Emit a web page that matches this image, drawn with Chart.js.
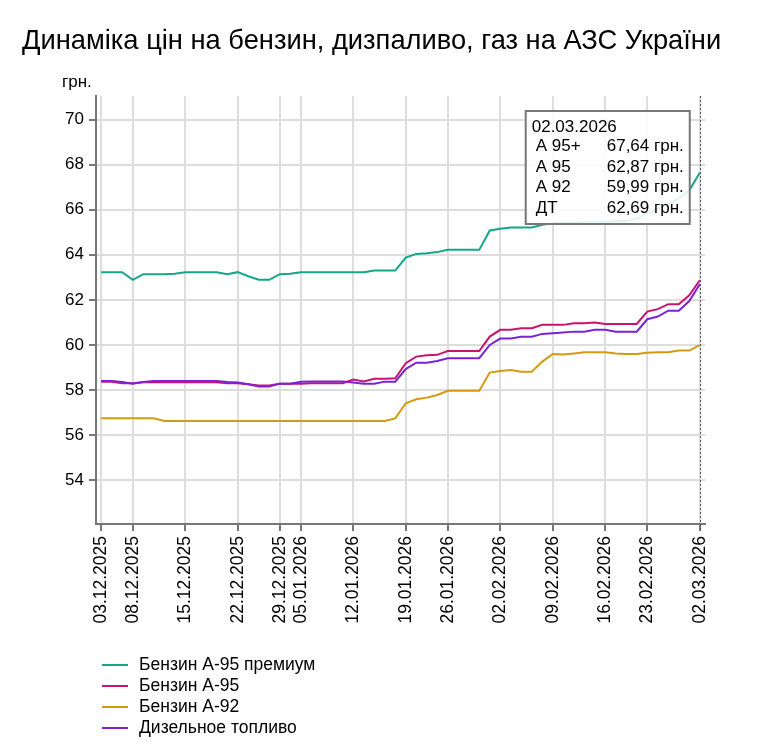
<!DOCTYPE html>
<html lang="uk">
<head>
<meta charset="utf-8">
<title>Динаміка цін на бензин, дизпаливо, газ на АЗС України</title>
<script src="https://cdn.jsdelivr.net/npm/chart.js@4.4.1/dist/chart.umd.min.js"></script>
<style>
  body { margin: 0; background: #fff; font-family: "Liberation Sans", Arial, sans-serif; }
  #wrap { position: relative; width: 761px; height: 749px; }
  #title { position: absolute; left: 22px; top: 24px; font-size: 27.3px; line-height: 32px; color: #000; white-space: nowrap; }
  #legend { position: absolute; left: 102px; top: 654px; font-size: 17.5px; color: #000; }
  .legend-item { position: relative; height: 21px; line-height: 21px; padding-left: 37px; white-space: nowrap; }
  .legend-item .swatch { position: absolute; left: 0; top: 10px; width: 26px; height: 2px; }
</style>
</head>
<body>
<div id="wrap">
  <canvas id="chart" width="761" height="749"></canvas>
  <div id="title">Динаміка цін на бензин, дизпаливо, газ на АЗС України</div>
  <div id="legend"></div>
</div>
<script>
// trading days shown on the chart
const dates = [
  "03.12.2025", "04.12.2025", "05.12.2025",
  "08.12.2025", "09.12.2025", "10.12.2025", "11.12.2025", "12.12.2025",
  "15.12.2025", "16.12.2025", "17.12.2025", "18.12.2025", "19.12.2025",
  "22.12.2025", "23.12.2025", "24.12.2025", "26.12.2025",
  "29.12.2025", "30.12.2025",
  "05.01.2026", "06.01.2026", "07.01.2026", "08.01.2026", "09.01.2026",
  "12.01.2026", "13.01.2026", "14.01.2026", "15.01.2026", "16.01.2026",
  "19.01.2026", "20.01.2026", "21.01.2026", "23.01.2026",
  "26.01.2026", "27.01.2026", "28.01.2026", "29.01.2026", "30.01.2026",
  "02.02.2026", "03.02.2026", "04.02.2026", "05.02.2026", "06.02.2026",
  "09.02.2026", "10.02.2026", "11.02.2026", "12.02.2026", "13.02.2026",
  "16.02.2026", "17.02.2026", "18.02.2026", "20.02.2026",
  "23.02.2026", "24.02.2026", "25.02.2026", "26.02.2026", "27.02.2026",
  "02.03.2026"
];
const tickDates = [
  "03.12.2025", "08.12.2025", "15.12.2025", "22.12.2025", "29.12.2025",
  "05.01.2026", "12.01.2026", "19.01.2026", "26.01.2026", "02.02.2026",
  "09.02.2026", "16.02.2026", "23.02.2026", "02.03.2026"
];
const yTicks = [54, 56, 58, 60, 62, 64, 66, 68, 70];

const a95plus = [
  63.23, 63.23, 63.23, 62.89, 63.14, 63.14, 63.14, 63.16, 63.23, 63.23,
  63.23, 63.23, 63.14, 63.23, 63.05, 62.89, 62.89, 63.14, 63.16, 63.23,
  63.23, 63.23, 63.23, 63.23, 63.23, 63.23, 63.30, 63.30, 63.30, 63.88,
  64.04, 64.07, 64.12, 64.22, 64.22, 64.22, 64.22, 65.08, 65.16, 65.21,
  65.21, 65.21, 65.33, 65.40, 65.42, 65.42, 65.45, 65.45, 65.45, 65.50,
  65.50, 65.60, 65.85, 66.05, 66.25, 66.50, 66.85, 67.64
];
const a95 = [
  58.36, 58.36, 58.30, 58.30, 58.34, 58.34, 58.34, 58.34, 58.34, 58.34,
  58.34, 58.34, 58.30, 58.30, 58.25, 58.20, 58.20, 58.28, 58.28, 58.28,
  58.30, 58.30, 58.30, 58.30, 58.46, 58.38, 58.50, 58.50, 58.52, 59.19,
  59.48, 59.54, 59.56, 59.73, 59.73, 59.73, 59.73, 60.37, 60.67, 60.67,
  60.74, 60.74, 60.89, 60.89, 60.89, 60.96, 60.96, 61.00, 60.93, 60.93,
  60.93, 60.93, 61.48, 61.59, 61.81, 61.81, 62.20, 62.87
];
const a92 = [
  56.74, 56.74, 56.74, 56.74, 56.74, 56.74, 56.62, 56.62, 56.62, 56.62,
  56.62, 56.62, 56.62, 56.62, 56.62, 56.62, 56.62, 56.62, 56.62, 56.62,
  56.62, 56.62, 56.62, 56.62, 56.62, 56.62, 56.62, 56.62, 56.74, 57.41,
  57.59, 57.66, 57.78, 57.96, 57.96, 57.96, 57.96, 58.77, 58.84, 58.89,
  58.81, 58.81, 59.26, 59.60, 59.58, 59.62, 59.67, 59.67, 59.67, 59.62,
  59.60, 59.60, 59.65, 59.67, 59.67, 59.75, 59.75, 59.99
];
const diesel = [
  58.40, 58.40, 58.35, 58.28, 58.35, 58.40, 58.40, 58.40, 58.40, 58.40,
  58.40, 58.40, 58.35, 58.33, 58.25, 58.15, 58.15, 58.28, 58.28, 58.36,
  58.38, 58.38, 58.38, 58.38, 58.33, 58.28, 58.28, 58.37, 58.37, 58.93,
  59.21, 59.21, 59.29, 59.41, 59.41, 59.41, 59.41, 60.00, 60.28, 60.28,
  60.36, 60.36, 60.49, 60.52, 60.55, 60.59, 60.59, 60.67, 60.67, 60.59,
  60.59, 60.59, 61.14, 61.26, 61.52, 61.52, 61.95, 62.69
];

const seriesNames = ["Бензин А-95 премиум", "Бензин А-95", "Бензин А-92", "Дизельное топливо"];
const shortNames = ["А 95+", "А 95", "А 92", "ДТ"];
const seriesData = [a95plus, a95, a92, diesel];
const colors = ["#14a688", "#c8146e", "#d49a10", "#7a22d4"];

const FONT = '"Liberation Sans", Arial, sans-serif';

// legend under the chart
const legendBox = document.getElementById("legend");
seriesNames.forEach((name, i) => {
  const item = document.createElement("div");
  item.className = "legend-item";
  const sw = document.createElement("span");
  sw.className = "swatch";
  sw.style.background = colors[i];
  item.appendChild(sw);
  item.appendChild(document.createTextNode(name));
  legendBox.appendChild(item);
});

const fmt = (v) => v.toFixed(2).replace(".", ",") + " грн.";

// crosshair, unit label and the fixed readout box for the last day
const readout = {
  id: "readout",
  beforeDatasetsDraw(chart) {
    const { ctx, chartArea } = chart;
    const x = Math.round(chart.scales.x.getPixelForValue(dates.length - 1)) + 0.5;
    ctx.save();
    ctx.strokeStyle = "#555";
    ctx.lineWidth = 1;
    ctx.setLineDash([2, 2]);
    ctx.beginPath();
    ctx.moveTo(x, chartArea.top);
    ctx.lineTo(x, chartArea.bottom + 7);
    ctx.stroke();
    ctx.restore();
  },
  afterDraw(chart) {
    const { ctx, chartArea } = chart;
    const last = dates.length - 1;
    const x = chart.scales.x.getPixelForValue(last);

    ctx.save();
    ctx.font = "17px " + FONT;
    ctx.fillStyle = "#000";
    ctx.textBaseline = "alphabetic";
    ctx.fillText("грн.", 62, 87);

    const values = seriesData.map((d) => fmt(d[last]));
    const valueW = Math.max(...values.map((s) => ctx.measureText(s).width));
    const w = 81 + valueW + 6;
    const h = 113;
    const right = x - 10;
    const left = right - w;
    const top = chartArea.top + 15;

    ctx.fillStyle = "rgba(255,255,255,0.88)";
    ctx.fillRect(left, top, w, h);
    ctx.strokeStyle = "#777";
    ctx.lineWidth = 2;
    ctx.strokeRect(left, top, w, h);

    ctx.fillStyle = "#000";
    ctx.fillText(dates[last], left + 6, top + 21);
    shortNames.forEach((n, i) => {
      const yb = top + 40 + i * 20.5;
      ctx.fillText(n, left + 10, yb);
      ctx.fillText(values[i], left + 81, yb);
    });
    ctx.restore();
  }
};

new Chart(document.getElementById("chart"), {
  type: "line",
  data: {
    labels: dates,
    datasets: seriesData.map((d, i) => ({
      label: seriesNames[i],
      data: d,
      borderColor: colors[i],
      backgroundColor: colors[i],
      borderWidth: 2,
      pointRadius: 0,
      tension: 0,
      fill: false,
      order: 3 - i,
    })),
  },
  options: {
    responsive: false,
    animation: false,
    events: [],
    layout: { padding: { left: 0, top: 96, right: 56, bottom: 115 } },
    plugins: {
      legend: { display: false },
      tooltip: { enabled: false },
      title: { display: false },
    },
    scales: {
      x: {
        type: "category",
        offset: true,
        afterBuildTicks: (scale) => {
          scale.ticks = scale.ticks.filter((t) => tickDates.includes(dates[t.value]));
        },
        afterFit: (scale) => { scale.height = 110; },
        grid: { offset: false, color: "#dddddd", lineWidth: 2, tickLength: 7, tickColor: "#777", tickWidth: 2 },
        border: { color: "#777", width: 2 },
        ticks: {
          autoSkip: false,
          maxRotation: 90,
          minRotation: 90,
          padding: 5,
          color: "#000",
          font: { family: FONT, size: 17.5 },
        },
      },
      y: {
        min: 52.05,
        max: 71.05,
        afterBuildTicks: (scale) => {
          scale.ticks = yTicks.map((v) => ({ value: v }));
        },
        afterFit: (scale) => { scale.width = 96; },
        grid: { color: "#dddddd", lineWidth: 2, tickLength: 7, tickColor: "#777", tickWidth: 2 },
        border: { color: "#777", width: 2 },
        ticks: {
          padding: 5,
          color: "#000",
          font: { family: FONT, size: 17 },
        },
      },
    },
  },
  plugins: [readout],
});
</script>
</body>
</html>
